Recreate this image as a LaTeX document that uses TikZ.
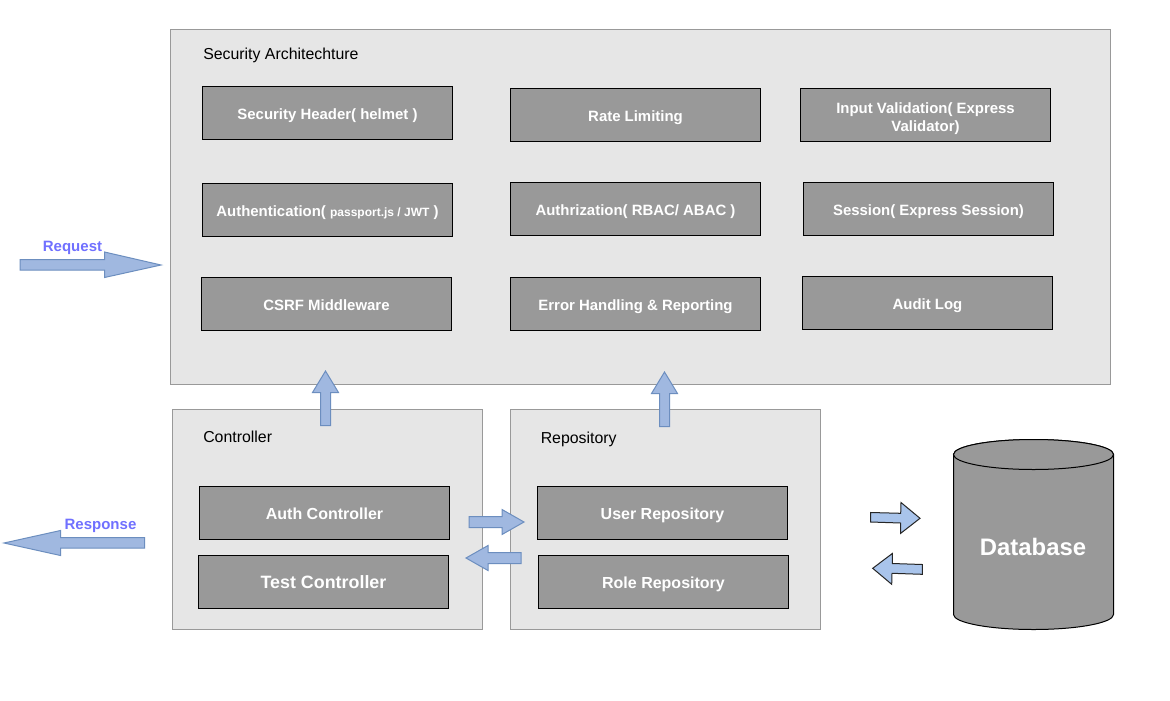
\documentclass[tikz,border=0pt]{standalone}
\usepackage{fontspec}
\setmainfont{Liberation Sans}
\definecolor{boxgray}{HTML}{999999}
\definecolor{panelgray}{HTML}{E6E6E6}
\definecolor{arrowfill}{HTML}{A0B8E0}
\definecolor{arrowline}{HTML}{6C8EBF}
\definecolor{dbarrow}{HTML}{A9C4EB}
\definecolor{reqtext}{HTML}{7070FF}
\tikzset{
  panel/.style={draw=boxgray,fill=panelgray,line width=0.75pt,anchor=north west,inner sep=0pt,outer sep=0pt},
  svcbase/.style={draw=black,fill=boxgray,line width=0.75pt,minimum width=187.5pt,minimum height=39.75pt,
    text=white,font=\bfseries\fontsize{11.2pt}{13.5pt}\selectfont,align=center,inner sep=0pt,outer sep=0pt},
  svcbox/.style={svcbase,text height=9.7pt,text depth=0pt},
  paneltitle/.style={anchor=west,inner sep=0pt,font=\fontsize{11.9pt}{14pt}\selectfont},
  flowlabel/.style={inner sep=0pt,text=reqtext,font=\bfseries\fontsize{11.25pt}{13.5pt}\selectfont},
  blockarrow/.style={draw=arrowline,fill=arrowfill,line width=0.75pt,line join=miter},
  dbblockarrow/.style={draw=black!85,fill=dbarrow,line width=0.75pt,line join=miter},
  dbshape/.style={draw=black,fill=boxgray,line width=0.75pt}
}
\begin{document}
\begin{tikzpicture}[x=0.75pt,y=-0.75pt]
\useasboundingbox (0,0) rectangle (1170,700);
\fill[white] (0,0) rectangle (1170,700);

% panels
\node[panel,minimum width=705pt,minimum height=266.25pt] (secpanel) at (170.5,29.5) {};
\node[panel,minimum width=232.5pt,minimum height=165pt] (ctrlpanel) at (172.5,409.5) {};
\node[panel,minimum width=232.5pt,minimum height=165pt] (repopanel) at (510.5,409.5) {};
\node[paneltitle] (sectitle) at (203,55.5) {Security Architechture};
\node[paneltitle] (ctrltitle) at (203,437) {Controller};
\node[paneltitle] (repotitle) at (540.5,439.5) {Repository};

% security boxes
\node[svcbox] (header) at (327.5,113) {Security Header( helmet )};
\node[svcbox] (rate) at (635.5,115) {Rate Limiting};
\node[svcbase] (input) at (925.5,115) {\rule{0pt}{13pt}Input Validation( Express\\Validator)};
\node[svcbox] (authn) at (327.5,210) {Authentication( {\fontsize{9pt}{11pt}\selectfont passport.js / JWT} )};
\node[svcbox] (authz) at (635.5,209) {Authrization( RBAC/ ABAC )};
\node[svcbox] (session) at (928.5,209) {Session( Express Session)};
\node[svcbox] (csrf) at (326.5,304) {CSRF Middleware};
\node[svcbox] (error) at (635.5,304) {Error Handling \& Reporting};
\node[svcbox] (audit) at (927.5,303) {Audit Log};

% controller and repository boxes
\node[svcbox,font=\bfseries\fontsize{12pt}{14pt}\selectfont] (authctrl) at (324.5,513) {Auth Controller};
\node[svcbox,font=\bfseries\fontsize{13.4pt}{16pt}\selectfont] (testctrl) at (323.5,582) {Test Controller};
\node[svcbox,font=\bfseries\fontsize{12pt}{14pt}\selectfont] (userrepo) at (662.5,513) {User Repository};
\node[svcbox,font=\bfseries\fontsize{12pt}{14pt}\selectfont] (rolerepo) at (663.5,582) {Role Repository};

% database
\draw[dbshape] (953.5,454.5) -- (953.5,614.5) arc[start angle=180,end angle=360,x radius=80,y radius=-15] -- (1113.5,454.5) arc[start angle=0,end angle=180,x radius=80,y radius=-15] -- cycle;
\draw[dbshape] (953.5,454.5) arc[start angle=180,end angle=360,x radius=80,y radius=-15] arc[start angle=0,end angle=180,x radius=80,y radius=-15] -- cycle;
\node[inner sep=0pt,text=white,font=\bfseries\fontsize{17.9pt}{22pt}\selectfont] (dblabel) at (1033,547) {Database};

% flow labels
\node[flowlabel] (reqlabel) at (72.5,247.5) {Request};
\node[flowlabel] (resplabel) at (100.5,525.5) {Response};

% block arrows
\draw[blockarrow] (20,259.5) -- (104.5,259.5) -- (104.5,252) -- (161,265) -- (104.5,277.5) -- (104.5,270) -- (20,270) -- cycle;
\draw[blockarrow] (4,543) -- (60.5,530.5) -- (60.5,537.5) -- (144.5,537.5) -- (144.5,548) -- (60.5,548) -- (60.5,555.5) -- cycle;
\draw[blockarrow] (325.5,371) -- (338.5,392.5) -- (330.5,392.5) -- (330.5,425.5) -- (320.5,425.5) -- (320.5,392.5) -- (312.5,392.5) -- cycle;
\draw[blockarrow] (664.5,372) -- (677.5,393.5) -- (669.5,393.5) -- (669.5,426.5) -- (659.5,426.5) -- (659.5,393.5) -- (651.5,393.5) -- cycle;
\draw[blockarrow] (469,516.5) -- (502,516.5) -- (502,509.5) -- (524,522) -- (502,534.5) -- (502,527.5) -- (469,527.5) -- cycle;
\draw[blockarrow] (466,558) -- (488,545.5) -- (488,552.5) -- (521,552.5) -- (521,563.5) -- (488,563.5) -- (488,570.5) -- cycle;

\draw[dbblockarrow] (870.7,512.5) -- (900.7,513.3) -- (901,502.5) -- (920,518.3) -- (900.7,533.3) -- (900.7,523) -- (870.7,522) -- cycle;
\draw[dbblockarrow] (872.7,568.3) -- (892.3,553.5) -- (892.3,563.5) -- (922.3,564.5) -- (922.3,574.3) -- (892,573.3) -- (891.7,584.3) -- cycle;
\end{tikzpicture}
\end{document}
